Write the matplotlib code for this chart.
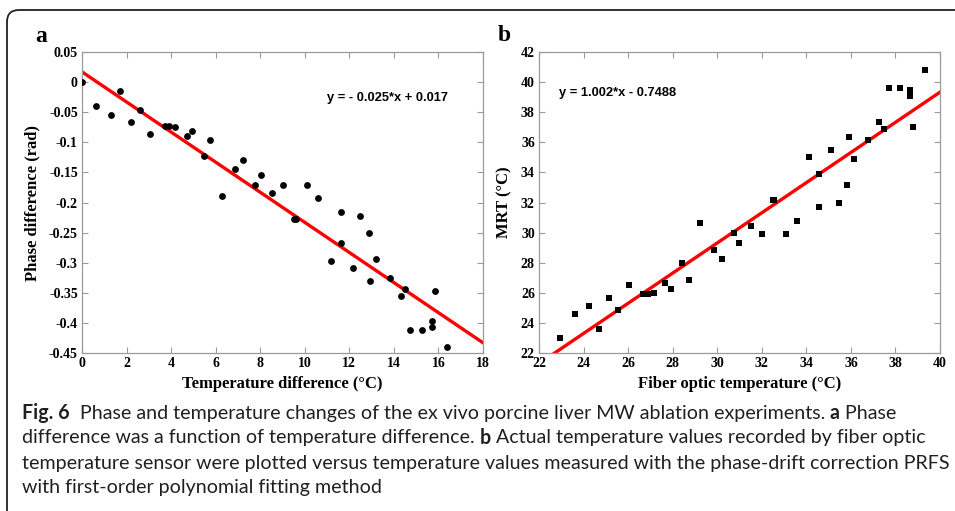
import matplotlib
matplotlib.use("Agg")
from matplotlib import pyplot as plt
from matplotlib.path import Path
from matplotlib.patches import PathPatch
import numpy as np

# panel a: phase difference vs temperature difference
temp_diff = [0.0, 0.63, 1.30, 1.71, 2.18, 2.60, 3.07, 3.72, 3.92, 4.19, 4.70, 4.95,
             5.46, 5.76, 6.27, 6.88, 7.24, 7.76, 8.05, 8.54, 9.02, 9.53, 9.62, 10.1,
             10.6, 11.16, 11.61, 11.61, 12.16, 12.48, 12.87, 12.94, 13.18, 13.81,
             14.32, 14.50, 14.73, 15.25, 15.69, 15.71, 15.84, 16.37]
phase_diff = [0.0, -0.039, -0.054, -0.015, -0.066, -0.046, -0.086, -0.073, -0.073,
              -0.075, -0.090, -0.081, -0.123, -0.096, -0.189, -0.145, -0.130, -0.171,
              -0.155, -0.184, -0.171, -0.227, -0.227, -0.171, -0.192, -0.298, -0.215,
              -0.268, -0.309, -0.222, -0.251, -0.330, -0.294, -0.325, -0.355, -0.344,
              -0.411, -0.412, -0.407, -0.397, -0.347, -0.440]
fit_a = (-0.025, 0.017)

# panel b: MRT vs fiber optic temperature
fiber_temp = [22.94, 23.60, 24.24, 24.68, 25.12, 25.55, 26.02, 26.67, 26.88, 27.15,
              27.67, 27.91, 28.42, 28.72, 29.23, 29.84, 30.21, 30.75, 30.99, 31.51,
              31.99, 32.49, 32.55, 33.07, 33.56, 34.12, 34.58, 34.58, 35.12, 35.45,
              35.82, 35.90, 36.15, 36.78, 37.26, 37.48, 37.69, 38.20, 38.67, 38.67,
              38.80, 39.33]
mrt_temp = [22.98, 24.59, 25.12, 23.60, 25.65, 24.84, 26.50, 25.94, 25.94, 25.96,
            26.63, 26.27, 27.98, 26.85, 30.64, 28.87, 28.25, 29.95, 29.29, 30.46,
            29.91, 32.17, 32.17, 29.89, 30.79, 35.02, 33.87, 31.68, 35.49, 32.00,
            33.14, 36.37, 34.87, 36.15, 37.35, 36.88, 39.63, 39.63, 39.48, 39.08,
            37.04, 40.80]
fit_b = (1.002, -0.7488)

caption = [
    ("Fig. 6", "  Phase and temperature changes of the ex vivo porcine liver MW ablation experiments. ", "a", " Phase"),
    ("", "difference was a function of temperature difference. ", "b", " Actual temperature values recorded by fiber optic"),
    ("", "temperature sensor were plotted versus temperature values measured with the phase-drift correction PRFS", "", ""),
    ("", "with first-order polynomial fitting method", "", ""),
]

W, H = 955, 511
fig = plt.figure(figsize=(W / 100, H / 100), dpi=100)

serif = "Liberation Serif"
sans = "Liberation Sans"
gray = "#9a9a9a"


def style(ax):
    for s in ax.spines.values():
        s.set_color(gray)
        s.set_linewidth(0.9)
    ax.tick_params(direction="in", top=True, right=True, length=4, width=0.8,
                   color=gray, labelsize=10, pad=3)
    for lab in ax.get_xticklabels() + ax.get_yticklabels():
        lab.set_fontfamily(serif)
        lab.set_fontweight("bold")


def fpos(x0, y0, x1, y1):
    return [x0 / W, 1 - y1 / H, (x1 - x0) / W, (y1 - y0) / H]


# panel a
ax1 = fig.add_axes(fpos(82, 52, 483, 353))
ax1.scatter(temp_diff, phase_diff, s=24, c="k", marker="o", zorder=3, linewidths=0)
xa = np.array([0, 18])
ax1.plot(xa, fit_a[0] * xa + fit_a[1], color="#ff0000", lw=2.4, zorder=2)
ax1.set_xlim(0, 18)
ax1.set_ylim(-0.45, 0.05)
ax1.set_xticks(np.arange(0, 19, 2))
ax1.set_yticks(np.arange(-0.45, 0.051, 0.05))
ax1.set_yticklabels(["-0.45", "-0.4", "-0.35", "-0.3", "-0.25", "-0.2", "-0.15",
                     "-0.1", "-0.05", "0", "0.05"])
style(ax1)
ax1.set_xlabel("Temperature difference (\u00b0C)", fontfamily=serif, fontweight="bold",
               fontsize=12, labelpad=4)
ax1.set_ylabel("Phase difference (rad)", fontfamily=serif, fontweight="bold",
               fontsize=12, labelpad=6)
ax1.text((448 - 82) / 401, 1 - (98 - 52) / 301, "y = - 0.025*x + 0.017",
         transform=ax1.transAxes, ha="right", va="center", fontfamily=sans,
         fontweight="bold", fontsize=9.3)

# panel b
ax2 = fig.add_axes(fpos(539, 52, 940, 353))
ax2.scatter(fiber_temp, mrt_temp, s=22, c="k", marker="s", zorder=3, linewidths=0)
xb = np.array([22, 40])
ax2.plot(xb, fit_b[0] * xb + fit_b[1], color="#ff0000", lw=2.4, zorder=2)
ax2.set_xlim(22, 40)
ax2.set_ylim(22, 42)
ax2.set_xticks(np.arange(22, 41, 2))
ax2.set_yticks(np.arange(22, 43, 2))
style(ax2)
ax2.set_xlabel("Fiber optic temperature (\u00b0C)", fontfamily=serif, fontweight="bold",
               fontsize=12, labelpad=4)
ax2.set_ylabel("MRT (\u00b0C)", fontfamily=serif, fontweight="bold",
               fontsize=12, labelpad=6)
ax2.text((559 - 539) / 401, 1 - (93 - 52) / 301, "y = 1.002*x - 0.7488",
         transform=ax2.transAxes, ha="left", va="center", fontfamily=sans,
         fontweight="bold", fontsize=9.3)

# panel letters
fig.text(35 / W, 1 - 37 / H, "a", fontfamily=serif, fontweight="bold", fontsize=17,
         ha="left", va="center")
fig.text(498 / W, 1 - 35 / H, "b", fontfamily=serif, fontweight="bold", fontsize=17,
         ha="left", va="center")

# outer frame with rounded top-left corner (image pixel coords, y down)
r = 12
x0, y0 = 7, 10
verts = [(x0, H + 5), (x0, y0 + r), (x0, y0), (x0 + r, y0), (W + 5, y0)]
codes = [Path.MOVETO, Path.LINETO, Path.CURVE3, Path.CURVE3, Path.LINETO]
verts = [(vx / W, 1 - vy / H) for vx, vy in verts]
frame = PathPatch(Path(verts, codes), transform=fig.transFigure, fill=False,
                  edgecolor="#222222", lw=1.3, clip_on=False)
fig.patches.append(frame)

# caption: pick a size so the longest line fits like the reference
cap_font = ["Lato", "DejaVu Sans"]
renderer = fig.canvas.get_renderer()
probe = fig.text(0, 0, caption[2][1], fontfamily=cap_font, fontsize=10)
cap_size = 10 * 926 / probe.get_window_extent(renderer=renderer).width
probe.remove()

for i, (bold1, normal, bold2, rest) in enumerate(caption):
    yy = 1 - (413 + 25 * i) / H
    x = 22 / W
    for txt, wt in ((bold1, "bold"), (normal, "normal"), (bold2, "bold"), (rest, "normal")):
        if not txt:
            continue
        t = fig.text(x, yy, txt, fontfamily=cap_font, fontweight=wt, fontsize=cap_size,
                     ha="left", va="center", color="#231f20")
        bb = t.get_window_extent(renderer=renderer)
        x += bb.width / W

fig.savefig("out.png", dpi=100)
